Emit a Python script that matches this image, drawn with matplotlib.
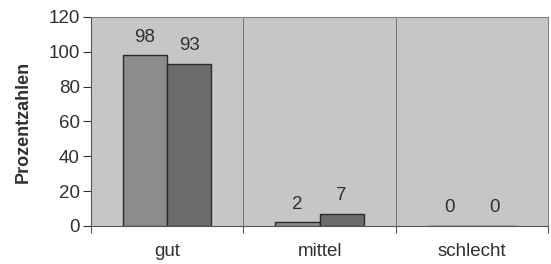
import numpy as np
import matplotlib.pyplot as plt

categories = ["gut", "mittel", "schlecht"]
series_a = [98, 2, 0]
series_b = [93, 7, 0]
y_ticks = [0, 20, 40, 60, 80, 100, 120]

plt.rcParams["font.family"] = ["Liberation Sans", "DejaVu Sans"]

fig = plt.figure(figsize=(5.51, 2.64), dpi=100)
ax = fig.add_axes([0.165, 0.144, 0.83, 0.792])
ax.set_facecolor("#c6c6c6")

x = np.arange(len(categories))
w = 0.29
bars_a = ax.bar(x - w / 2, series_a, w, color="#8c8c8c", edgecolor="#2a2a2a", linewidth=1.0, zorder=3)
bars_b = ax.bar(x + w / 2, series_b, w, color="#6c6c6c", edgecolor="#2a2a2a", linewidth=1.0, zorder=3)

for bars, vals in [(bars_a, series_a), (bars_b, series_b)]:
    for b, v in zip(bars, vals):
        ax.annotate(str(v), (b.get_x() + b.get_width() / 2, v), xytext=(0, 7),
                    textcoords="offset points", ha="center", va="bottom",
                    fontsize=13.5, color="#303030")

ax.set_xlim(-0.5, len(categories) - 0.5)
ax.set_ylim(0, 120)
ax.set_yticks(y_ticks)
ax.set_xticks(x)
ax.set_xticklabels(categories)
ax.set_xticks(np.arange(len(categories) + 1) - 0.5, minor=True)
ax.tick_params(axis="x", which="major", length=0, pad=12, labelsize=13.5, colors="#303030")
ax.tick_params(axis="x", which="minor", length=5, width=0.8, color="#555555")
ax.tick_params(axis="y", length=6, width=0.8, labelsize=13.5, colors="#303030", pad=2)
ax.grid(axis="x", which="minor", color="#707070", linewidth=0.7, zorder=1)

for s in ["top", "right"]:
    ax.spines[s].set_color("#808080")
    ax.spines[s].set_linewidth(0.8)
ax.spines["left"].set_color("#555555")
ax.spines["bottom"].set_color("#555555")

ax.set_ylabel("Prozentzahlen", fontsize=13, fontweight="bold", color="#303030", labelpad=12)

fig.savefig("out.png", dpi=100)
